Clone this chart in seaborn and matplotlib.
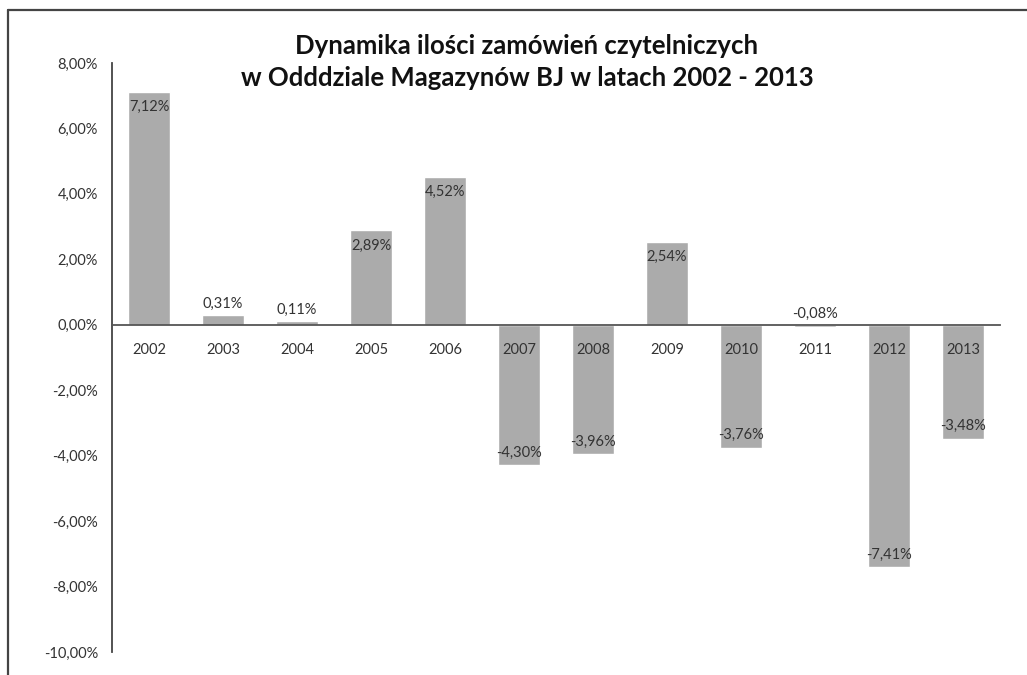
import matplotlib
matplotlib.use("Agg")
import matplotlib.pyplot as plt
import matplotlib.lines as mlines
import seaborn as sns
import pandas as pd

years = ["2002", "2003", "2004", "2005", "2006", "2007", "2008", "2009", "2010", "2011", "2012", "2013"]
values = [7.12, 0.31, 0.11, 2.89, 4.52, -4.30, -3.96, 2.54, -3.76, -0.08, -7.41, -3.48]
yticks = [8, 6, 4, 2, 0, -2, -4, -6, -8, -10]
title = "Dynamika ilości zamówień czytelniczych\nw Odddziale Magazynów BJ w latach 2002 - 2013"

sns.set_theme(style="white")
plt.rcParams['font.family'] = ['Lato', 'DejaVu Sans']

def fmt(v):
    return f"{v:.2f}".replace('.', ',') + '%'

df = pd.DataFrame({"year": years, "value": values})

fig = plt.figure(figsize=(10.27, 6.75), dpi=100)
ax = fig.add_axes([112/1027, 23/675, (1000-112)/1027, (652-63)/675])

sns.barplot(data=df, x="year", y="value", color="#ababab", saturation=1,
            width=0.58, ax=ax, zorder=1)

ax.set_ylim(-10, 8)
ax.set_xlim(-0.5, 11.5)
ax.set_yticks(yticks)
ax.set_yticklabels([fmt(t) for t in yticks])
ax.set_xlabel("")
ax.set_ylabel("")

for s in ["top", "right"]:
    ax.spines[s].set_visible(False)
ax.spines["bottom"].set_position(("data", 0))
ax.spines["bottom"].set_color("#555555")
ax.spines["bottom"].set_linewidth(1.3)
ax.spines["left"].set_color("#444444")
ax.spines["left"].set_linewidth(1.3)
ax.spines["bottom"].set_zorder(3)
ax.xaxis.set_zorder(5)

ax.tick_params(axis="x", length=0, pad=13, labelsize=10.5, labelcolor="#333333")
ax.tick_params(axis="y", length=0, pad=10, labelsize=10.5, labelcolor="#333333")

for i, v in enumerate(values):
    if abs(v) < 0.5:
        ax.annotate(fmt(v), xy=(i, max(v, 0)), xytext=(0, 3), textcoords="offset points",
                    ha="center", va="bottom", fontsize=10.5, color="#333333", zorder=4)
    elif v > 0:
        ax.annotate(fmt(v), xy=(i, v), xytext=(0, -11), textcoords="offset points",
                    ha="center", va="center", fontsize=10.5, color="#333333", zorder=4)
    else:
        ax.annotate(fmt(v), xy=(i, v), xytext=(0, 9), textcoords="offset points",
                    ha="center", va="center", fontsize=10.5, color="#333333", zorder=4)

fig.text(527/1027, 1 - 62/675, title, ha="center", va="center", fontsize=18.5,
         fontweight="bold", color="#111111", linespacing=1.35)

fig.add_artist(mlines.Line2D([8/1027, 1], [1 - 10/675, 1 - 10/675], color="#444444", lw=1.6))
fig.add_artist(mlines.Line2D([8/1027, 8/1027], [0, 1 - 10/675], color="#444444", lw=1.6))

fig.savefig("out.png", dpi=100)
